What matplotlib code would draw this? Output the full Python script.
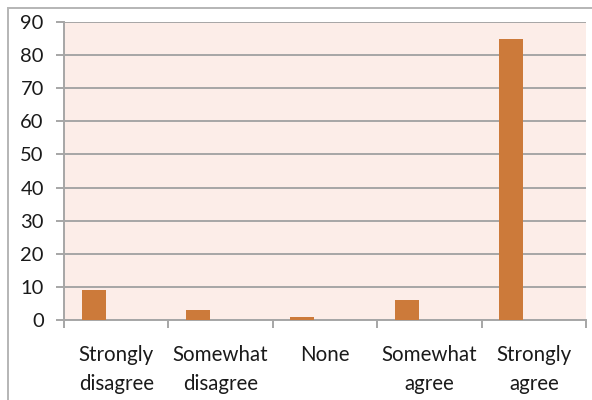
import matplotlib
matplotlib.use("Agg")
import matplotlib.pyplot as plt
from matplotlib.patches import Rectangle
import numpy as np

categories = ["Strongly\ndisagree", "Somewhat\ndisagree", "None", "Somewhat\nagree", "Strongly\nagree"]
values = [9, 3, 1, 6, 85]
y_ticks = [0, 10, 20, 30, 40, 50, 60, 70, 80, 90]

plt.rcParams['font.family'] = ['Lato', 'DejaVu Sans']

bar_color = "#CC7A3A"
plot_bg = "#FCEDE8"
grid_color = "#A6A6A6"
text_color = "#1A1A1A"

fig = plt.figure(figsize=(5.92, 4.0), dpi=100)
ax = fig.add_axes([64 / 592, 80 / 400, 522 / 592, 298 / 400])
ax.set_facecolor(plot_bg)

n = len(categories)
x = np.arange(n)
# bars sit toward the left side of each category slot
ax.bar(x - 0.216, values, width=0.23, color=bar_color, zorder=3)

ax.set_xlim(-0.5, n - 0.5)
ax.set_ylim(0, 90)
ax.set_yticks(y_ticks)
ax.yaxis.grid(True, color=grid_color, linewidth=1.4, zorder=1)
ax.set_axisbelow(True)

# category boundaries get tick marks, labels sit at slot centres
ax.set_xticks(np.arange(n + 1) - 0.5)
ax.set_xticklabels([])
ax.set_xticks(x, minor=True)
ax.set_xticklabels(categories, minor=True, fontsize=14.8, color=text_color,
                   linespacing=1.55)
ax.tick_params(axis='x', which='major', length=6, width=1.4, color=grid_color,
               direction='out')
ax.tick_params(axis='x', which='minor', length=0, pad=18)
ax.tick_params(axis='y', length=5.5, width=1.4, color=grid_color, pad=9,
               labelsize=14.5, labelcolor=text_color)

for side in ['top', 'right']:
    ax.spines[side].set_visible(False)
for side in ['left', 'bottom']:
    ax.spines[side].set_color(grid_color)
    ax.spines[side].set_linewidth(1.4)

# outer chart frame
fig.patches.append(Rectangle((8 / 592, -0.1), 1.2, 1.1 - 8 / 400,
                             transform=fig.transFigure, fill=False,
                             edgecolor="#B5B5B5", linewidth=1.4))

fig.savefig("out.png", dpi=100)
